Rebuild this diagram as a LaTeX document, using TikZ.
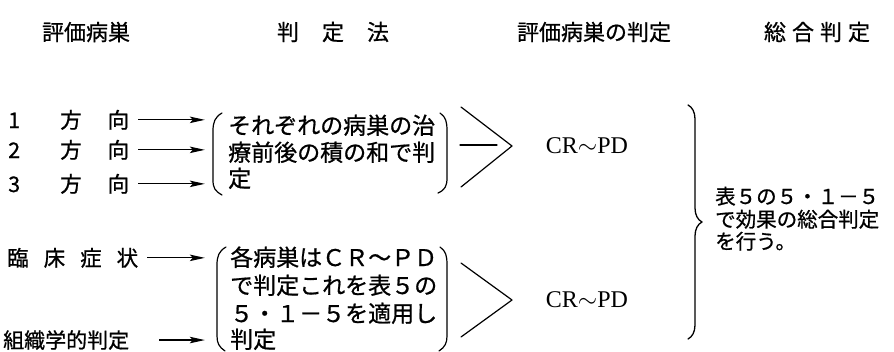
\documentclass[tikz,border=0pt]{standalone}
\usepackage{fontspec}
\setmainfont{Noto Sans CJK JP}[FakeBold=0.8]
\newfontfamily\latinserif{Liberation Serif}
\usetikzlibrary{arrows.meta,decorations.pathreplacing,fit}
\begin{document}
\begin{tikzpicture}[x=1pt,y=-1pt,
  hdr/.style={font=\fontsize{22}{22}\selectfont, inner sep=0pt},
  lab/.style={font=\fontsize{21.5}{21.5}\selectfont, anchor=base west, inner sep=0pt},
  txt/.style={font=\fontsize{23}{23}\selectfont, anchor=base west, inner sep=0pt},
  res/.style={font=\fontsize{20.5}{20.5}\selectfont, anchor=base west, inner sep=0pt},
  crpd/.style={font=\latinserif\fontsize{24}{24}\selectfont, inner sep=0pt},
  grp/.style={inner ysep=0pt},
  arr/.style={line width=1.2pt, -{Stealth[length=15pt,width=6.5pt,inset=3pt]}, shorten <=9pt},
  pen/.style={line width=1.2pt, line cap=round, line join=round},
]
\useasboundingbox (0,0) rectangle (894,351);

% headers
\node[hdr] (h1) at (86,32) {評価病巣};
\node[hdr] (h2) at (333,32) {判\hspace{23pt}定\hspace{23pt}法};
\node[hdr] (h3) at (594,32) {評価病巣の判定};
\node[hdr] (h4) at (817,32) {総\hspace{6pt}合\hspace{6pt}判\hspace{6pt}定};

% left labels
\node[lab] (r1) at (8,128) {\makebox[52pt][l]{1}方\hspace{26pt}向};
\node[lab] (r2) at (8,158) {\makebox[52pt][l]{2}方\hspace{26pt}向};
\node[lab] (r3) at (8,192) {\makebox[52pt][l]{3}方\hspace{26pt}向};
\node[lab] (r4) at (7,266) {臨\hspace{15pt}床\hspace{15pt}症\hspace{15pt}状};
\node[lab, font=\fontsize{21}{21}\selectfont] (r5) at (3,348) {組織学的判定};

% upper judgement text
\node[txt] (u1) at (228,134) {それぞれの病巣の治};
\node[txt] (u2) at (228,161) {療前後の積の和で判};
\node[txt] (u3) at (228,187) {定};
\node[grp, fit=(u1)(u2)(u3), inner xsep=23pt] (box1) {};

% lower judgement text
\node[txt] (l1) at (230,266) {各病巣はＣＲ～ＰＤ};
\node[txt] (l2) at (230,294) {で判定これを表５の};
\node[txt] (l3) at (230,322) {５・１－５を適用し};
\node[txt] (l4) at (230,348) {判定};
\node[grp, fit=(l1)(l2)(l3)(l4), inner xsep=25pt] (box2) {};

% arrows
\draw[arr] (r1.east) -- (r1.east -| box1.west);
\draw[arr] (r2.east) -- (r2.east -| box1.west);
\draw[arr] (r3.east) -- (r3.east -| box1.west);
\draw[arr] (r4.east) -- (r4.east -| box2.west);
\draw[arr, shorten <=30pt] (r5.east) -- (r5.east -| box2.west);

% parentheses
\draw[pen] (222,113) .. controls (215,117) and (213,122) .. (213,131) -- (213,180) .. controls (213,188) and (215,191) .. (222,195);
\draw[pen] (440,113) .. controls (446,117) and (447,122) .. (447,131) -- (447,178) .. controls (447,186) and (445,190) .. (438,193);
\draw[pen] (226,247) .. controls (219,251) and (217,256) .. (217,265) -- (217,336) .. controls (217,343) and (219,347) .. (225,351);
\draw[pen] (440,247) .. controls (446,251) and (447,256) .. (447,265) -- (447,336) .. controls (447,343) and (445,347) .. (439,351);

% angle marks
\coordinate (v1) at (512,146);
\coordinate (v2) at (512,300);
\draw[pen] (461,107) -- (v1) -- (461,187);
\draw[pen] (460,145) -- (497,145);
\draw[pen] (461,263) -- (v2) -- (461,337);

% results
\node[crpd] (c1) at (587,146) {CR$\sim$PD};
\node[crpd] (c2) at (587,300) {CR$\sim$PD};

% big brace
\coordinate (bt) at (688,105);
\coordinate (bb) at (688,339);
\draw[pen, line width=1.3pt, decorate, decoration={brace, amplitude=14pt}] (bt) -- (bb);

% overall text
\node[res] (s1) at (715,204) {表５の５・１－５};
\node[res] (s2) at (715,227) {で効果の総合判定};
\node[res] (s3) at (715,249) {を行う。};
\end{tikzpicture}
\end{document}
